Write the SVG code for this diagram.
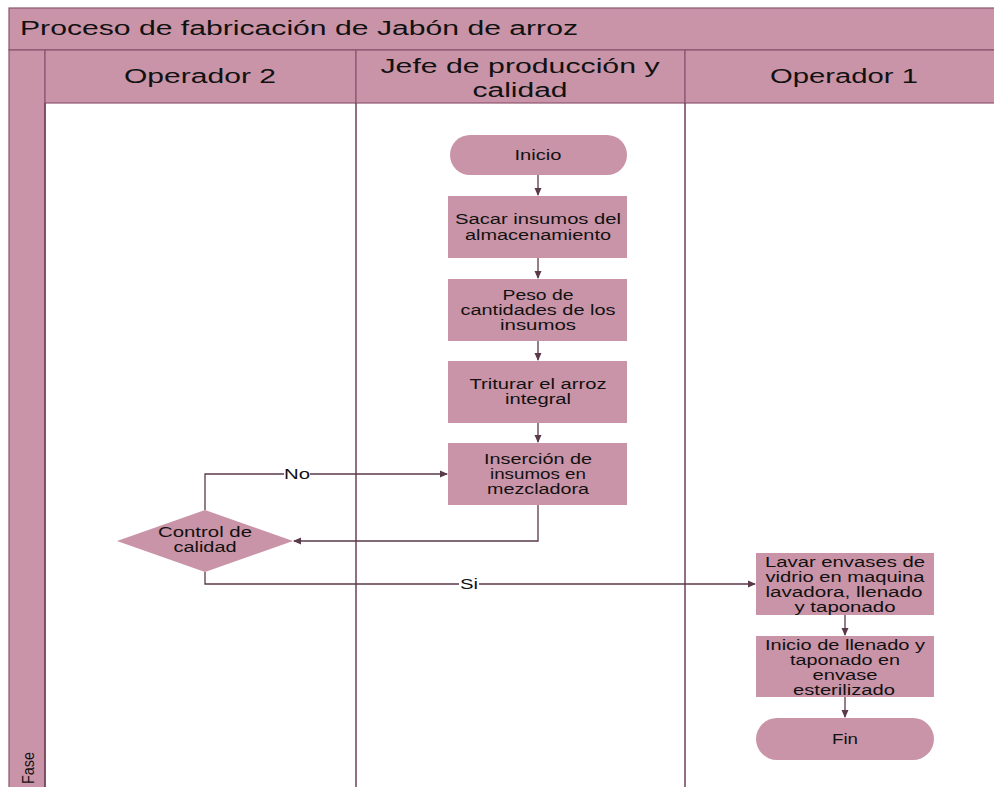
<svg xmlns="http://www.w3.org/2000/svg" width="994" height="787" viewBox="0 0 994 787">
<defs>
<style>
.band{fill:#c994a7;stroke:#8c5570;stroke-width:1.2}
.node{fill:#c994a7;stroke:none}
.lane{stroke:#6e4058;stroke-width:1.5;fill:none}
.conn{stroke:#5a3a4a;stroke-width:1.3;fill:none}
.t{font-family:"Liberation Sans",Arial,sans-serif;fill:#111;text-anchor:middle}
.h{font-size:20px}
.n{font-size:14px}
</style>
<marker id="arr" markerWidth="8" markerHeight="8" refX="7" refY="4" orient="auto" markerUnits="userSpaceOnUse">
<path d="M0,0.5 L8,4 L0,7.5 Z" fill="#5a3a4a"/>
</marker>
</defs>
<rect width="994" height="787" fill="#ffffff"/>
<g id="pool">
<rect class="band" x="9" y="8" width="990" height="42"/>
<text class="t" x="20" y="35" style="font-size:20px;text-anchor:start" textLength="558" lengthAdjust="spacingAndGlyphs">Proceso de fabricación de Jabón de arroz</text>
<rect class="band" x="9" y="50" width="36" height="745"/>
<text class="t" x="0" y="0" transform="translate(34,768) rotate(-90)" style="font-size:16px" textLength="32" lengthAdjust="spacingAndGlyphs">Fase</text>
</g>
<g id="lane-op2">
<rect class="band" x="45" y="50" width="311" height="53"/>
<text class="t h" x="200" y="83" textLength="152" lengthAdjust="spacingAndGlyphs">Operador 2</text>
</g>
<g id="lane-jefe">
<rect class="band" x="356" y="50" width="329" height="53"/>
<text class="t h" x="520" y="73" textLength="279" lengthAdjust="spacingAndGlyphs">Jefe de producción y</text>
<text class="t h" x="520" y="97" textLength="95" lengthAdjust="spacingAndGlyphs">calidad</text>
</g>
<g id="lane-op1">
<rect class="band" x="685" y="50" width="314" height="53"/>
<text class="t h" x="844" y="83" textLength="148" lengthAdjust="spacingAndGlyphs">Operador 1</text>
</g>
<g id="lanes">
<line class="lane" x1="45" y1="103" x2="45" y2="787"/>
<line class="lane" x1="356" y1="103" x2="356" y2="787"/>
<line class="lane" x1="685" y1="103" x2="685" y2="787"/>
</g>
<g id="connectors">
<path class="conn" d="M538,175 V195" marker-end="url(#arr)"/>
<path class="conn" d="M538,258 V278" marker-end="url(#arr)"/>
<path class="conn" d="M538,341 V360" marker-end="url(#arr)"/>
<path class="conn" d="M538,423 V442" marker-end="url(#arr)"/>
<path class="conn" d="M538,505 V541 H294" marker-end="url(#arr)"/>
<path class="conn" d="M205,510 V474 H447" marker-end="url(#arr)"/>
<path class="conn" d="M205,572 V584 H755" marker-end="url(#arr)"/>
<path class="conn" d="M845,615 V635" marker-end="url(#arr)"/>
<path class="conn" d="M845,697 V717" marker-end="url(#arr)"/>
<rect x="284" y="466" width="26" height="15" fill="#fff"/>
<text class="t n" x="297" y="479" textLength="26" lengthAdjust="spacingAndGlyphs">No</text>
<rect x="459" y="576" width="20" height="15" fill="#fff"/>
<text class="t n" x="469" y="589" textLength="18" lengthAdjust="spacingAndGlyphs">Si</text>
</g>
<g id="inicio">
<rect class="node" x="450" y="135" width="177" height="40" rx="20" ry="20"/>
<text class="t n" x="538" y="160" textLength="47" lengthAdjust="spacingAndGlyphs">Inicio</text>
</g>
<g id="sacar">
<rect class="node" x="448" y="196" width="179" height="62"/>
<text class="t n" x="538" y="224" textLength="166" lengthAdjust="spacingAndGlyphs">Sacar insumos del</text>
<text class="t n" x="538" y="240" textLength="146" lengthAdjust="spacingAndGlyphs">almacenamiento</text>
</g>
<g id="peso">
<rect class="node" x="448" y="279" width="179" height="62"/>
<text class="t n" x="538" y="300" textLength="71" lengthAdjust="spacingAndGlyphs">Peso de</text>
<text class="t n" x="538" y="315" textLength="155" lengthAdjust="spacingAndGlyphs">cantidades de los</text>
<text class="t n" x="538" y="330" textLength="76" lengthAdjust="spacingAndGlyphs">insumos</text>
</g>
<g id="triturar">
<rect class="node" x="448" y="361" width="179" height="62"/>
<text class="t n" x="538" y="389" textLength="137" lengthAdjust="spacingAndGlyphs">Triturar el arroz</text>
<text class="t n" x="538" y="404" textLength="66" lengthAdjust="spacingAndGlyphs">integral</text>
</g>
<g id="insercion">
<rect class="node" x="448" y="443" width="179" height="62"/>
<text class="t n" x="538" y="464" textLength="108" lengthAdjust="spacingAndGlyphs">Inserción de</text>
<text class="t n" x="538" y="479" textLength="96" lengthAdjust="spacingAndGlyphs">insumos en</text>
<text class="t n" x="538" y="494" textLength="102" lengthAdjust="spacingAndGlyphs">mezcladora</text>
</g>
<g id="control">
<polygon class="node" points="205,510 293,541 205,572 117,541"/>
<text class="t n" x="205" y="537" textLength="94" lengthAdjust="spacingAndGlyphs">Control de</text>
<text class="t n" x="205" y="552" textLength="63" lengthAdjust="spacingAndGlyphs">calidad</text>
</g>
<g id="lavar">
<rect class="node" x="756" y="553" width="178" height="62"/>
<text class="t n" x="845" y="567" textLength="160" lengthAdjust="spacingAndGlyphs">Lavar envases de</text>
<text class="t n" x="845" y="582" textLength="159" lengthAdjust="spacingAndGlyphs">vidrio en maquina</text>
<text class="t n" x="844" y="597" textLength="157" lengthAdjust="spacingAndGlyphs">lavadora, llenado</text>
<text class="t n" x="845" y="612" textLength="101" lengthAdjust="spacingAndGlyphs">y taponado</text>
</g>
<g id="llenado">
<rect class="node" x="756" y="636" width="178" height="61"/>
<text class="t n" x="845" y="650" textLength="160" lengthAdjust="spacingAndGlyphs">Inicio de llenado y</text>
<text class="t n" x="845" y="665" textLength="110" lengthAdjust="spacingAndGlyphs">taponado en</text>
<text class="t n" x="845" y="680" textLength="65" lengthAdjust="spacingAndGlyphs">envase</text>
<text class="t n" x="844" y="695" textLength="102" lengthAdjust="spacingAndGlyphs">esterilizado</text>
</g>
<g id="fin">
<rect class="node" x="756" y="718" width="178" height="42" rx="21" ry="21"/>
<text class="t n" x="845" y="744" textLength="26" lengthAdjust="spacingAndGlyphs">Fin</text>
</g>
</svg>
